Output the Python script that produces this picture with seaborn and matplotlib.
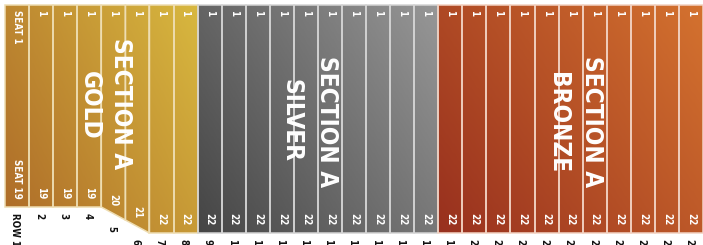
import numpy as np
import pandas as pd
import matplotlib
matplotlib.use("Agg")
import matplotlib.pyplot as plt
import seaborn as sns
from matplotlib.patches import Polygon
from matplotlib.colors import LinearSegmentedColormap
from matplotlib import font_manager

# ---------------- data ----------------
rows = list(range(1, 30))
seats = [19, 19, 19, 19, 20, 21, 22, 22] + [22] * 10 + [22] * 11
sections = ["GOLD"] * 8 + ["SILVER"] * 10 + ["BRONZE"] * 11
section_names = ["GOLD", "SILVER", "BRONZE"]
section_title = "SECTION A"
row_labels = ["ROW 1"] + [str(r) for r in rows[1:]]
top_labels = ["SEAT 1"] + ["1"] * (len(rows) - 1)
bottom_labels = ["SEAT 19"] + [str(s) for s in seats[1:]]

# ---------------- style ----------------
HEADER = 4.31  # space above seat numbering (styling)
grad = {
    "GOLD": ("#AD6A28", "#D8B83F"),
    "SILVER": ("#454545", "#979797"),
    "BRONZE": ("#98301E", "#D4722F"),
}
divider = {"GOLD": "#EEDDB2", "SILVER": "#D4D4D4", "BRONZE": "#F2D2C2"}
sec_layout = {
    "GOLD": dict(title=(0.82, 11.42), name=(-0.47, 11.54)),
    "SILVER": dict(title=(0.38, 13.5), name=(-1.08, 13.27)),
    "BRONZE": dict(title=(0.89, 13.5), name=(-0.53, 13.6)),
}

sns.set_theme(style="white")
plt.rcParams["font.family"] = ["DejaVu Sans"]


def find_condensed_bold():
    best = None
    best_score = -1
    for f in font_manager.fontManager.ttflist:
        nm = f.name.lower()
        fn = f.fname.lower()
        st = str(f.stretch).lower()
        cond = ("condensed" in st or "narrow" in nm or "condensed" in nm
                or "condensed" in fn or "narrow" in fn)
        if not cond or "italic" in fn or "oblique" in fn:
            continue
        score = 1
        if "bold" in fn or str(f.weight) in ("bold", "700"):
            score += 4
        if "semi" in fn or "semi" in st or "extra" in fn or "light" in fn:
            score -= 2
        if score > best_score:
            best, best_score = f, score
    if best is None:
        return font_manager.FontProperties(family="DejaVu Sans", weight="bold")
    return font_manager.FontProperties(fname=best.fname)


cond_fp = find_condensed_bold()


def fp(size):
    p = cond_fp.copy()
    p.set_size(size)
    return p


fig = plt.figure(figsize=(7.03, 2.45), dpi=100)
ax = fig.add_axes([0, 0, 1, 1])

depth = [s + HEADER for s in seats]
df = pd.DataFrame({"row": [str(r) for r in rows], "depth": depth, "section": sections})
sns.barplot(data=df, x="row", y="depth", order=[str(r) for r in rows],
            width=1.0, color="#999999", ax=ax, errorbar=None)
bars = sorted(ax.patches, key=lambda p: p.get_x())

# bottom profile (slanted edge for transitional rows)
n = len(seats)
left_b = [float(s) for s in seats]
right_b = [float(s) for s in seats]
trans = [0 < i < n - 1 and seats[i - 1] < seats[i] < seats[i + 1] for i in range(n)]
i = 0
while i < n:
    if trans[i]:
        a = i
        while i + 1 < n and trans[i + 1]:
            i += 1
        b = i
        v0, v1 = seats[a - 1], seats[b + 1]
        k = b - a + 1
        for j in range(a, b + 1):
            left_b[j] = v0 + (v1 - v0) * (j - a) / k
            right_b[j] = v0 + (v1 - v0) * (j - a + 1) / k
    i += 1

sec_cols = {s: [i for i in range(n) if sections[i] == s] for s in section_names}

for i, bar in enumerate(bars):
    bar.set_visible(False)
    x0 = bar.get_x()
    x1 = x0 + bar.get_width()
    yl = left_b[i] + HEADER
    yr = right_b[i] + HEADER
    poly_xy = [(x0, 0), (x1, 0), (x1, yr), (x0, yl)]
    sec = sections[i]
    cols = sec_cols[sec]
    sx0 = bars[cols[0]].get_x()
    sx1 = bars[cols[-1]].get_x() + bars[cols[-1]].get_width()
    sy1 = max(depth[c] for c in cols)
    cmap = LinearSegmentedColormap.from_list(sec, list(grad[sec]))
    X, Y = np.meshgrid(np.linspace(0, 1, 200), np.linspace(0, 1, 100))
    T = 0.62 * X + 0.38 * (1 - Y)
    clip = Polygon(poly_xy, closed=True, facecolor="none", edgecolor="none",
                   transform=ax.transData)
    ax.add_patch(clip)
    im = ax.imshow(T, cmap=cmap, vmin=0, vmax=1, extent=(sx0, sx1, sy1, 0),
                   origin="upper", aspect="auto", interpolation="bilinear", zorder=1)
    im.set_clip_path(clip)
    edge = Polygon(poly_xy, closed=True, facecolor="none",
                   edgecolor=divider[sec], lw=1.1, zorder=2)
    ax.add_patch(edge)

    cx = x0 + 0.5 * (x1 - x0)
    mid_b = 0.5 * (yl + yr)
    ax.text(cx, 0.6, top_labels[i], rotation=-90, ha="center", va="top",
            color="white", fontproperties=fp(7), zorder=3)
    ax.text(cx, mid_b - 0.9, bottom_labels[i], rotation=-90, ha="center",
            va="bottom", color="white", fontproperties=fp(7), zorder=3)
    ax.text(cx - 0.08, max(yl, yr) + 0.65, row_labels[i], rotation=-90,
            ha="center", va="top", color="#111111", fontproperties=fp(7),
            zorder=3)

for sec in section_names:
    cols = sec_cols[sec]
    sx0 = bars[cols[0]].get_x()
    sx1 = bars[cols[-1]].get_x() + bars[cols[-1]].get_width()
    cx = 0.5 * (sx0 + sx1)
    tdx, ty = sec_layout[sec]["title"]
    ndx, ny = sec_layout[sec]["name"]
    ax.text(cx + tdx, ty, section_title, rotation=-90, ha="center", va="center",
            color="white", fontproperties=fp(17.5), zorder=4)
    ax.text(cx + ndx, ny, sec, rotation=-90, ha="center", va="center",
            color="white", fontproperties=fp(17.5), zorder=4)

ax.set_xlim(-0.71, 28.5)
ax.set_ylim(27.69, -0.577)
ax.set_axis_off()
fig.savefig("out.png", dpi=100, facecolor="white")
